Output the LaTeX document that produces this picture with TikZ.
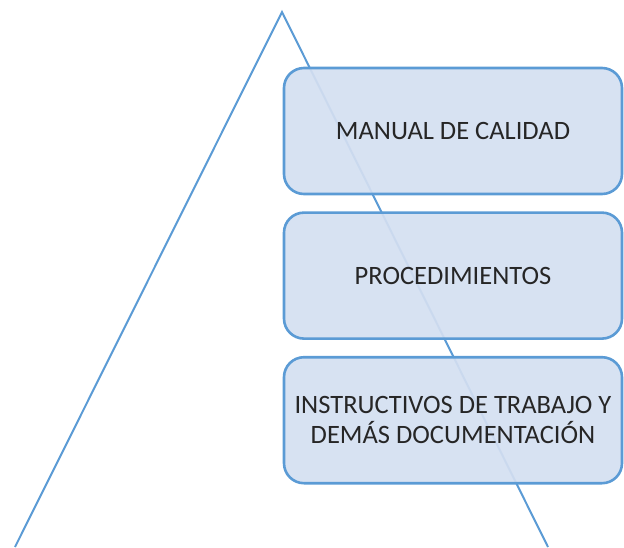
\documentclass[tikz,border=0pt]{standalone}
\usepackage{fontspec}
\setmainfont{Carlito}
\definecolor{offblue}{RGB}{91,155,213}
\definecolor{offfill}{RGB}{212,223,241}
\usetikzlibrary{positioning}

\begin{document}
\begin{tikzpicture}[
  x=1pt,y=-1pt,
  every node/.style={font=\fontsize{26.5}{30}\selectfont},
  level/.style={draw=offblue,line width=2.6pt,rounded corners=20pt,fill=offfill,
                fill opacity=0.92,text opacity=1,text=black!85,
                minimum width=338pt,minimum height=126pt,align=center,inner sep=0pt},
  edge/.style={draw=offblue,line width=2pt},
]
  \useasboundingbox (0,0) rectangle (624,547);

  % pyramid outline
  \coordinate (apex)  at (282,12);
  \coordinate (bleft) at (15,547);
  \coordinate (bright) at (548,547);
  \draw[edge,line join=miter] (bleft) -- (apex) -- (bright);

  % levels
  \node[level] (manual) at (453,131) {MANUAL DE CALIDAD};
  \node[level,below=16pt of manual] (proc) {PROCEDIMIENTOS};
  \node[level,below=16pt of proc] (instr) {INSTRUCTIVOS DE TRABAJO Y\\DEMÁS DOCUMENTACIÓN};
\end{tikzpicture}
\end{document}
